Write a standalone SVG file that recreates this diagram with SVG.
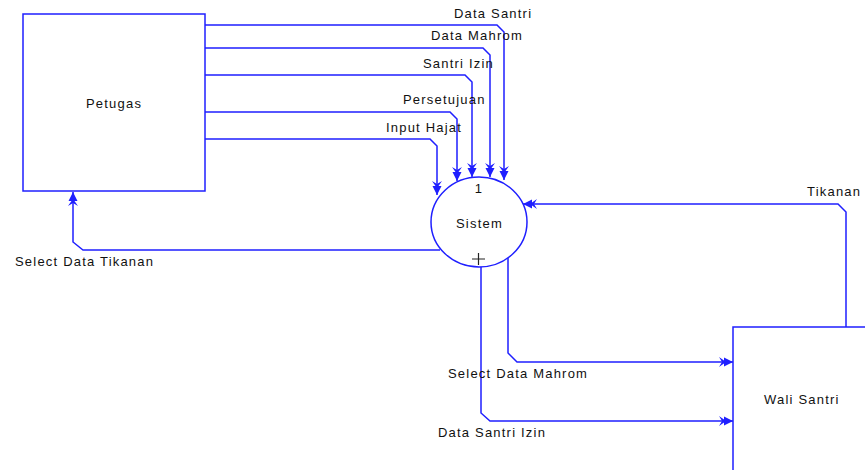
<svg xmlns="http://www.w3.org/2000/svg" width="865" height="470" viewBox="0 0 865 470">
  <style>
    .box { fill: #ffffff; stroke: #1f1fff; stroke-width: 1.5; }
    .flow { fill: none; stroke: #1f1fff; stroke-width: 1.5; marker-end: url(#head); }
    .label { font-family: "Liberation Sans", Arial, sans-serif; font-size: 13px; letter-spacing: 1.2px; fill: #111111; }
    .mid { text-anchor: middle; }
  </style>
  <defs>
    <!-- notched arrowhead used on every data flow -->
    <marker id="head" markerUnits="userSpaceOnUse" markerWidth="18" markerHeight="14" refX="14" refY="0" viewBox="-1 -7 17 14" orient="auto" overflow="visible">
      <path d="M0,-5 L5,-1.5 L5,-4.5 L14,0 L5,4.5 L5,1.5 L0,5 L3,0 Z" fill="#1f1fff"/>
    </marker>
  </defs>

  <rect width="865" height="470" fill="#ffffff"/>

  <!-- data flows -->
  <g id="connectors">
    <path class="flow" d="M205,25 H497 L504,32 V180"/>
    <path class="flow" d="M205,48 H483 L490,55 V177"/>
    <path class="flow" d="M205,75 H465 L472,82 V177"/>
    <path class="flow" d="M205,112 H450 L457,119 V181"/>
    <path class="flow" d="M205,139 H430 L437,146 V195"/>
    <path class="flow" d="M846,327 V212 L838,204 H523"/>
    <path class="flow" d="M440,250 H83 L73,242 V192"/>
    <path class="flow" d="M508,258 V353 L517,362 H733"/>
    <path class="flow" d="M481,267 V413 L490,421 H733"/>

    <text class="label" x="454" y="18">Data Santri</text>
    <text class="label" x="431" y="40">Data Mahrom</text>
    <text class="label" x="423" y="68">Santri Izin</text>
    <text class="label" x="403" y="104">Persetujuan</text>
    <text class="label" x="386" y="132">Input Hajat</text>
    <text class="label" x="807" y="196">Tikanan</text>
    <text class="label" x="15" y="266">Select Data Tikanan</text>
    <text class="label" x="448" y="378">Select Data Mahrom</text>
    <text class="label" x="438" y="437">Data Santri Izin</text>
  </g>

  <!-- external entity: Petugas -->
  <g id="petugas">
    <rect class="box" x="23" y="14" width="182" height="177"/>
    <text class="label" x="86" y="108">Petugas</text>
  </g>

  <!-- process 1: Sistem -->
  <g id="sistem">
    <ellipse class="box" cx="479" cy="222" rx="48" ry="45"/>
    <text class="label mid" x="479" y="193">1</text>
    <text class="label" x="456" y="228">Sistem</text>
    <path d="M472,259 H485 M478.5,253 V265" stroke="#222222" stroke-width="1.2" fill="none"/>
  </g>

  <!-- external entity: Wali Santri -->
  <g id="wali-santri">
    <rect class="box" x="733" y="327" width="150" height="160"/>
    <text class="label" x="764" y="404">Wali Santri</text>
  </g>
</svg>
